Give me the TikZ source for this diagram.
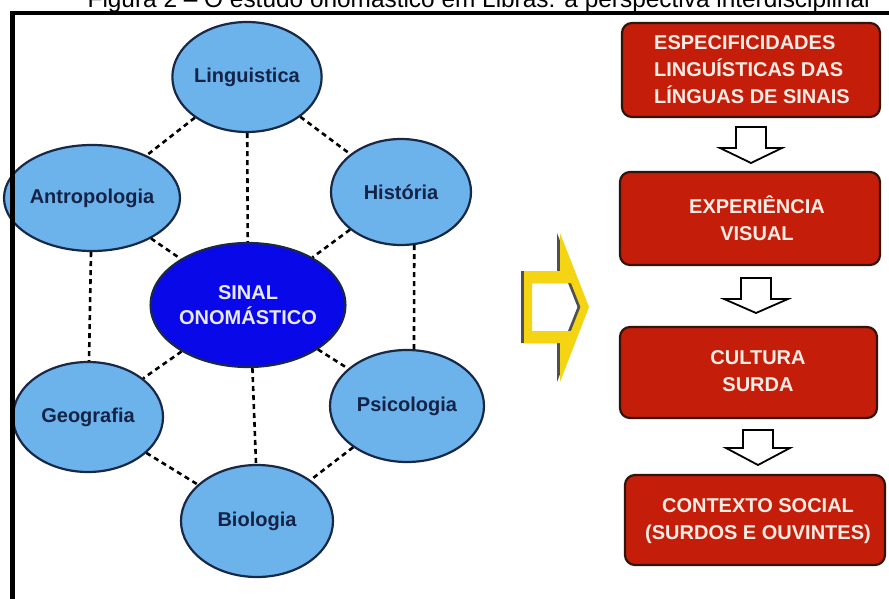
\documentclass[tikz,border=0pt]{standalone}
\usepackage{fontspec}
\setmainfont{Liberation Sans}
\usetikzlibrary{shapes.geometric}
\definecolor{ellfill}{RGB}{108,178,235}
\definecolor{ellline}{RGB}{25,40,70}
\definecolor{ctrfill}{RGB}{8,8,232}
\definecolor{ctrtext}{RGB}{232,232,255}
\definecolor{boxfill}{RGB}{196,30,10}
\definecolor{boxline}{RGB}{50,20,10}
\definecolor{boxtext}{RGB}{252,236,228}
\definecolor{arrowyellow}{RGB}{245,212,20}
\definecolor{arrowshade}{RGB}{80,80,80}
\definecolor{navytext}{RGB}{20,35,70}
\begin{document}
\begin{tikzpicture}[x=1pt,y=-1pt,
  disc/.style={ellipse, draw=ellline, line width=2.2pt, fill=ellfill, inner sep=0pt,
    font=\fontsize{20}{23}\selectfont\bfseries, text=navytext},
  link/.style={draw=black, line width=2.6pt, dash pattern=on 5pt off 4pt},
  redbox/.style={draw=boxline, line width=2.2pt, fill=boxfill, rounded corners=10pt, inner sep=0pt},
  boxlabel/.style={font=\fontsize{20}{27}\selectfont\bfseries, text=boxtext, inner sep=0pt},
  downarrow/.style={draw=black, line width=1.8pt, fill=white, line join=miter}
]
\useasboundingbox (0,0) rectangle (889,599);
\fill[white] (0,0) rectangle (889,599);

% partially visible title (cut off at the top, as in the reference)
\node[anchor=base, font=\fontsize{24.4}{28}\selectfont, inner sep=0pt] (title) at (480,7.5)
  {Figura 2 – O estudo onomástico em Libras: a perspectiva interdisciplinar};

% ellipses
\node[disc, minimum width=144pt, minimum height=110pt] (ling) at (247,77) {Linguistica};
\node[disc, minimum width=152pt, minimum height=106pt] (antro) at (92,198) {Antropologia};
\node[disc, minimum width=140pt, minimum height=106pt] (hist) at (401,192) {História};
\node[ellipse, draw=ellline, line width=2.2pt, fill=ctrfill, inner sep=0pt,
      minimum width=170pt, minimum height=124pt, text=ctrtext, align=center,
      font=\fontsize{20}{25}\selectfont\bfseries] (sinal) at (248,305) {SINAL\\ONOMÁSTICO};
\node[disc, minimum width=150pt, minimum height=110pt] (geo) at (88,417) {Geografia};
\node[disc, minimum width=154pt, minimum height=112pt] (psi) at (407,406) {Psicologia};
\node[disc, minimum width=152pt, minimum height=112pt] (bio) at (257,521) {Biologia};

% dashed links
\draw[link] (ling) -- (antro);
\draw[link] (ling) -- (hist);
\draw[link] (ling) -- (sinal);
\draw[link] (antro) -- (sinal);
\draw[link] (antro) -- (geo);
\draw[link] (hist) -- (sinal);
\draw[link] (hist.-76) -- (psi.83);
\draw[link] (sinal) -- (geo);
\draw[link] (sinal) -- (psi);
\draw[link] (sinal.-86) -- (bio.91);
\draw[link] (geo) -- (bio);
\draw[link] (psi) -- (bio);

% yellow hollow arrow
\fill[arrowshade, even odd rule, xshift=-3pt]
  (524,271) -- (560,271) -- (560,233) -- (589,307) -- (560,382) -- (560,343) -- (524,343) -- cycle
  (532,283) -- (571,283) -- (580.5,307) -- (571,331) -- (532,331) -- cycle;
\fill[arrowyellow, even odd rule]
  (524,271) -- (560,271) -- (560,233) -- (589,307) -- (560,382) -- (560,343) -- (524,343) -- cycle
  (532,283) -- (571,283) -- (580.5,307) -- (571,331) -- (532,331) -- cycle;

% red boxes
\node[redbox, minimum width=258pt, minimum height=94pt] (b1) at (751,70) {};
\node[redbox, minimum width=260pt, minimum height=93pt] (b2) at (750,218.5) {};
\node[redbox, minimum width=257pt, minimum height=91pt] (b3) at (748.5,372.5) {};
\node[redbox, minimum width=260pt, minimum height=90pt] (b4) at (755,520) {};

\node[boxlabel, align=left] (t1) at (752,70) {ESPECIFICIDADES\\LINGUÍSTICAS DAS\\LÍNGUAS DE SINAIS};
\node[boxlabel, align=center] (t2) at (757,218.5) {EXPERIÊNCIA\\VISUAL};
\node[boxlabel, align=center] (t3) at (758,371.5) {CULTURA\\SURDA};
\node[boxlabel, align=center] (t4) at (758,521) {CONTEXTO SOCIAL\\(SURDOS E OUVINTES)};

% hollow down arrows
\draw[downarrow] (736,127) -- (766,127) -- (766,148) -- (782,148) -- (751,163) -- (720,148) -- (736,148) -- cycle;
\draw[downarrow] (741,278) -- (771,278) -- (771,299) -- (788,299) -- (756,313) -- (724,299) -- (741,299) -- cycle;
\draw[downarrow] (743,430) -- (773,430) -- (773,448) -- (790,448) -- (758,465) -- (726,448) -- (743,448) -- cycle;

% frame
\draw[line width=4.5pt] (12.5,599) -- (12.5,13) -- (889,13);
\end{tikzpicture}
\end{document}
